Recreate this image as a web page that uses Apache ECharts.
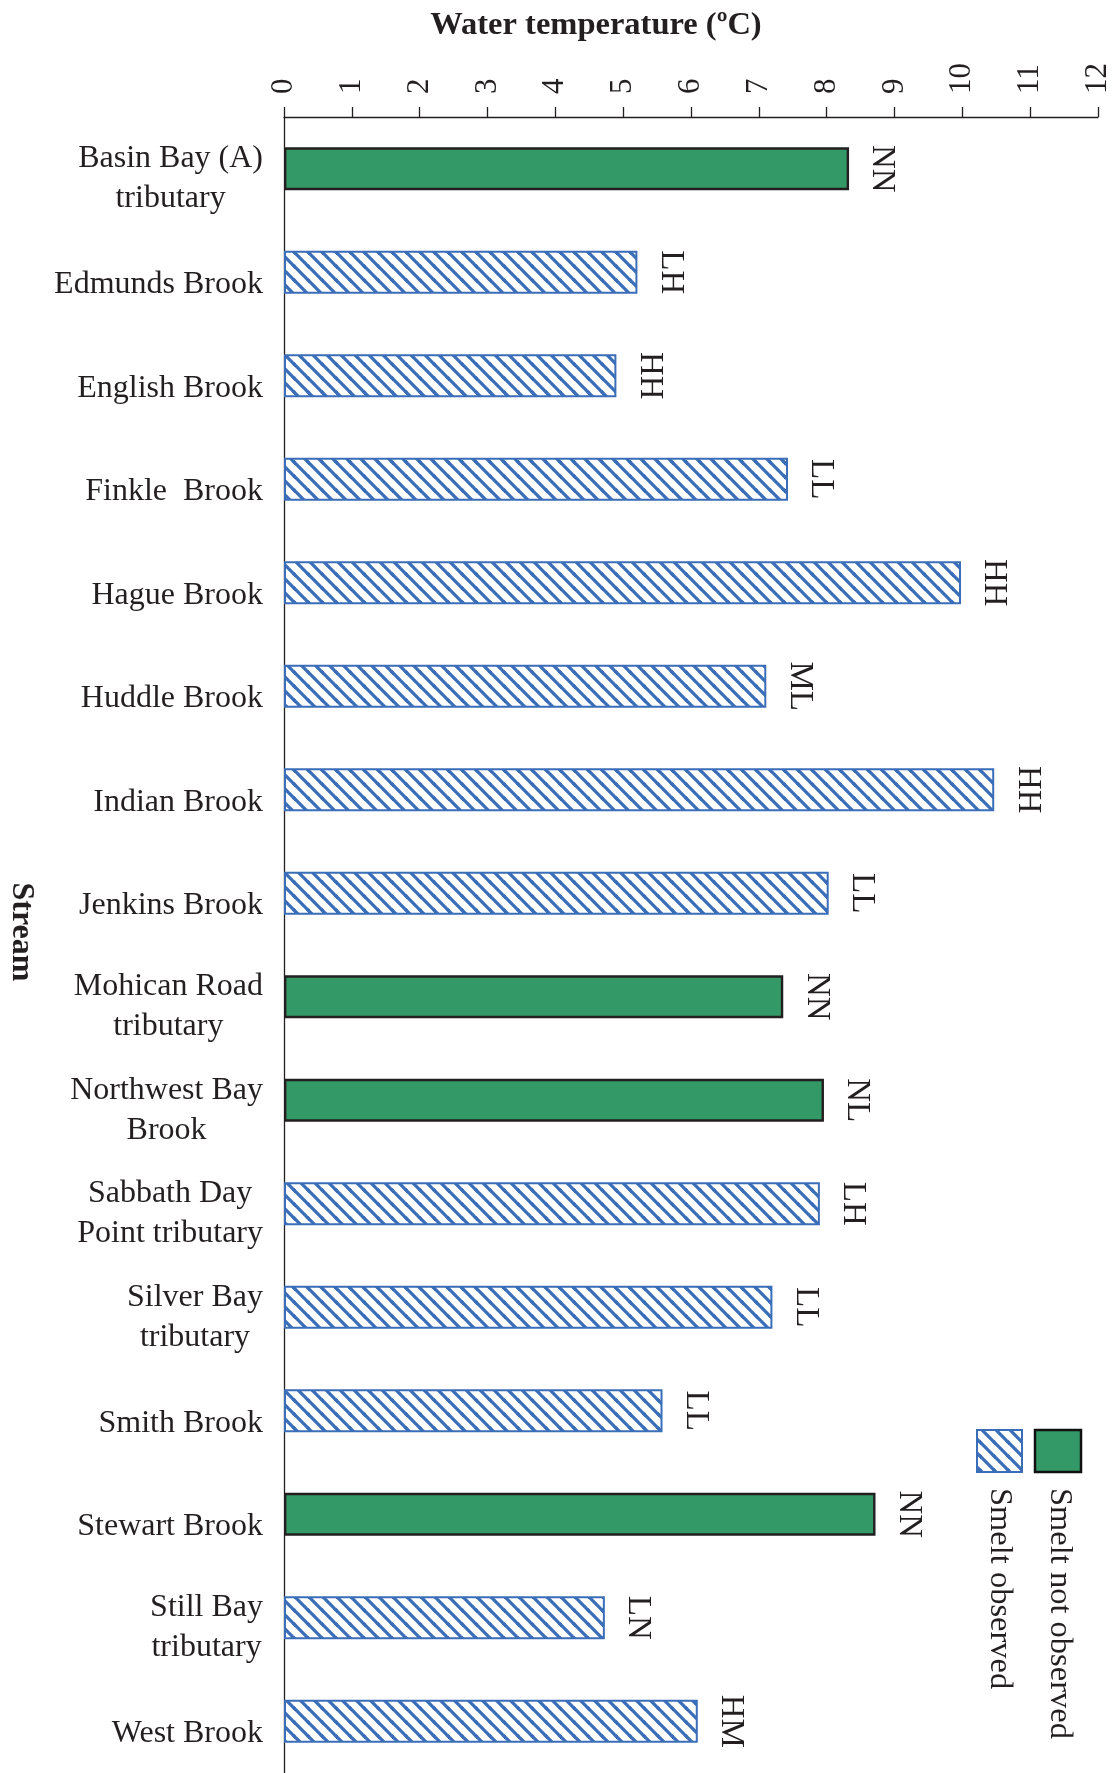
<!DOCTYPE html>
<html>
<head>
<meta charset="utf-8">
<script src="https://cdn.jsdelivr.net/npm/echarts@6/dist/echarts.min.js"></script>
<style>
  html, body { margin: 0; padding: 0; background: #fff; }
  #chart { width: 1118px; height: 1773px; }
</style>
</head>
<body>
<div id="chart"></div>
<script>
// Stream names (line breaks as printed on the axis)
const streams = [
  'Basin Bay (A)\ntributary',
  'Edmunds Brook',
  'English Brook',
  'Finkle  Brook',
  'Hague Brook',
  'Huddle Brook',
  'Indian Brook',
  'Jenkins Brook',
  'Mohican Road\ntributary',
  'Northwest Bay\nBrook',
  'Sabbath Day\nPoint tributary',
  'Silver Bay\ntributary',
  'Smith Brook',
  'Stewart Brook',
  'Still Bay\ntributary',
  'West Brook'
];

// Water temperature (ºC) for each stream
const temperatures = [8.33, 5.21, 4.90, 7.43, 9.98, 7.11, 10.47, 8.03, 7.36, 7.96, 7.90, 7.20, 5.58, 8.72, 4.73, 6.10];

// Two-letter code printed at the end of each bar
const habitatCodes = ['NN', 'LH', 'HH', 'LL', 'HH', 'ML', 'HH', 'LL', 'NN', 'NL', 'LH', 'LL', 'LL', 'NN', 'LN', 'HM'];

// Whether smelt were observed in the stream
const smeltObserved = [false, true, true, true, true, true, true, true, false, false, true, true, true, false, true, true];

// Temperature axis range and step
const tempMin = 0;
const tempMax = 12;
const tempStep = 1;

const legendNames = ['Smelt not observed', 'Smelt observed'];

const FONT = '"Liberation Serif", "Times New Roman", Times, serif';
const INK = '#231F20';
const GREEN = '#339966';
const BLUE = '#3A6EB9';

// Diagonal "\" hatch used for the observed streams
function makeHatch() {
  const s = 14;
  const c = document.createElement('canvas');
  c.width = s; c.height = s;
  const g = c.getContext('2d');
  g.fillStyle = '#ffffff';
  g.fillRect(0, 0, s, s);
  g.strokeStyle = BLUE;
  g.lineWidth = 3.3;
  [[0, 0], [s, 0], [-s, 0], [0, s], [0, -s]].forEach(([dx, dy]) => {
    g.beginPath();
    g.moveTo(dx - 3, dy - 3);
    g.lineTo(dx + s + 3, dy + s + 3);
    g.stroke();
  });
  return c;
}
const hatch = { image: makeHatch(), repeat: 'repeat' };

const notObservedData = temperatures.map((v, i) => (smeltObserved[i] ? '-' : v));
const observedData = temperatures.map((v, i) => (smeltObserved[i] ? v : '-'));

const barLabel = {
  show: true,
  position: 'right',
  distance: 33,
  rotate: -90,
  align: 'center',
  verticalAlign: 'middle',
  fontFamily: FONT,
  fontSize: 33,
  color: INK,
  formatter: p => habitatCodes[p.dataIndex]
};

const chart = echarts.init(document.getElementById('chart'), null, { renderer: 'canvas' });

chart.setOption({
  animation: false,
  backgroundColor: '#ffffff',
  grid: { left: 284, right: 20, top: 117, bottom: 0, containLabel: false },
  xAxis: {
    type: 'value',
    position: 'top',
    min: tempMin,
    max: tempMax,
    interval: tempStep,
    axisLine: { show: true, lineStyle: { color: INK, width: 1.3 } },
    axisTick: { show: true, inside: false, length: 10, lineStyle: { color: INK, width: 1.3 } },
    splitLine: { show: false },
    axisLabel: {
      rotate: -90,
      margin: 23,
      fontFamily: FONT,
      fontSize: 31,
      color: INK,
      showMinLabel: true,
      showMaxLabel: true
    }
  },
  yAxis: {
    type: 'category',
    inverse: true,
    data: streams,
    axisLine: { show: true, lineStyle: { color: INK, width: 1.3 } },
    axisTick: { show: false },
    splitLine: { show: false },
    axisLabel: {
      interval: 0,
      margin: 21,
      align: 'right',
      formatter: v => {
        const lines = v.split('\n');
        if (lines.length === 1) return '{one|' + v + '}';
        return lines.map(l => '{two|' + l + '}').join('\n');
      },
      rich: {
        one: { fontFamily: FONT, fontSize: 32, color: INK, align: 'center', padding: [25, 0, 0, 0] },
        two: { fontFamily: FONT, fontSize: 32, color: INK, align: 'center', lineHeight: 40, padding: [20, 0, 0, 0] }
      }
    }
  },
  series: [
    {
      name: legendNames[0],
      type: 'bar',
      data: notObservedData,
      barWidth: 43,
      barGap: '-100%',
      itemStyle: { color: GREEN, borderColor: INK, borderWidth: 2.4 },
      label: barLabel
    },
    {
      name: legendNames[1],
      type: 'bar',
      data: observedData,
      barWidth: 43,
      barGap: '-100%',
      itemStyle: { color: hatch, borderColor: BLUE, borderWidth: 2 },
      label: barLabel
    }
  ],
  graphic: [
    {
      type: 'text', x: 596, y: 26,
      style: { text: 'Water temperature (ºC)', fontFamily: FONT, fontSize: 32.5, fontWeight: 'bold', fill: INK, align: 'center', verticalAlign: 'middle' }
    },
    {
      type: 'text', x: 21, y: 932, rotation: -Math.PI / 2,
      style: { text: 'Stream', fontFamily: FONT, fontSize: 32, fontWeight: 'bold', fill: INK, align: 'center', verticalAlign: 'middle' }
    },
    {
      type: 'rect',
      shape: { x: 1035, y: 1430, width: 46, height: 42 },
      style: { fill: GREEN, stroke: '#111111', lineWidth: 2.5 }
    },
    {
      type: 'rect',
      shape: { x: 977, y: 1430, width: 45, height: 42 },
      style: { fill: hatch, stroke: BLUE, lineWidth: 2 }
    },
    {
      type: 'text', x: 1060, y: 1488, rotation: -Math.PI / 2,
      style: { text: legendNames[0], fontFamily: FONT, fontSize: 32.5, fill: INK, align: 'left', verticalAlign: 'middle' }
    },
    {
      type: 'text', x: 1000, y: 1488, rotation: -Math.PI / 2,
      style: { text: legendNames[1], fontFamily: FONT, fontSize: 32.5, fill: INK, align: 'left', verticalAlign: 'middle' }
    }
  ]
});
</script>
</body>
</html>
